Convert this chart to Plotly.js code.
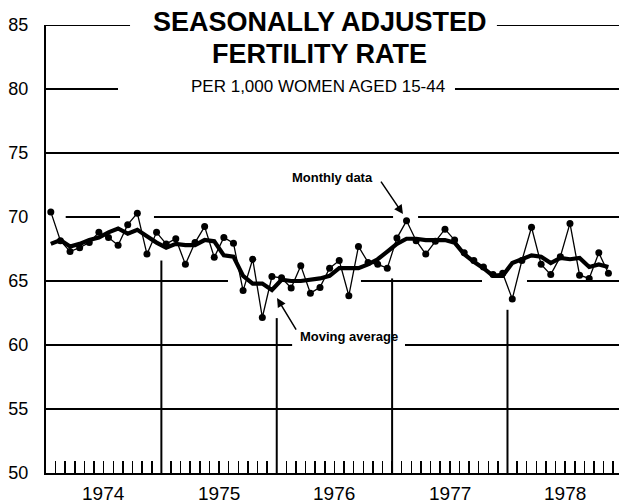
<!DOCTYPE html>
<html>
<head>
<meta charset="utf-8">
<script src="https://cdn.plot.ly/plotly-3.0.1.min.js"></script>
<style>html,body{margin:0;padding:0;background:#fff;}#chart{width:619px;height:504px;}</style>
</head>
<body>
<div id="chart"></div>
<script>
// Years shown on the axis
var years = ['1974', '1975', '1976', '1977', '1978'];

// Monthly seasonally adjusted fertility rate, Jan 1974 .. Nov 1978
var monthlyRate = [
  70.4, 68.15, 67.3, 67.6, 68.0, 68.8, 68.4, 67.8, 69.4, 70.3, 67.1, 68.8,
  67.9, 68.3, 66.3, 68.0, 69.25, 66.85, 68.4, 67.95, 64.25, 66.7, 62.15, 65.35,
  65.25, 64.45, 66.2, 64.05, 64.5, 66.0, 66.6, 63.85, 67.7, 66.45, 66.3, 66.0,
  68.35, 69.7, 68.15, 67.1, 68.1, 69.05, 68.2, 67.2, 66.6, 66.1, 65.5, 65.6,
  63.6, 66.6, 69.2, 66.3, 65.5, 66.9, 69.5, 65.45, 65.2, 67.2, 65.6
];

// Moving average
var movingAvg = [
  67.9, 68.2, 67.7, 67.9, 68.2, 68.4, 68.8, 69.1, 68.7, 69.0, 68.5, 68.0,
  67.6, 67.9, 67.8, 67.8, 68.2, 68.1, 67.0, 66.9, 65.4, 64.8, 64.8, 64.3,
  65.1, 65.0, 65.0, 65.1, 65.2, 65.4, 66.0, 66.0, 66.0, 66.3, 66.7, 67.3,
  67.9, 68.3, 68.3, 68.2, 68.2, 68.2, 68.0, 67.1, 66.5, 66.0, 65.4, 65.4,
  66.4, 66.7, 67.0, 66.9, 66.4, 66.8, 66.7, 66.8, 66.1, 66.3, 66.1
];

var yTicks = [50, 55, 60, 65, 70, 75, 80, 85];

// month i is drawn at the middle of its month slot
var xMonthly = monthlyRate.map(function (v, i) { return i + 0.5; });
var xAvg = movingAvg.map(function (v, i) { return i + 0.5; });

var XMAX = 59.6;
var FONT = 'Liberation Sans, Arial, Helvetica, sans-serif';

// horizontal rule segments (broken where text / data cross them)
var rules = [
  {y: 85, segs: [[0, 8.74], [46.9, XMAX]]},
  {y: 80, segs: [[0, 7.49], [42.54, XMAX]]},
  {y: 75, segs: [[0, XMAX]]},
  {y: 70, segs: [[2.05, 7.7], [11.23, 36.1], [38.7, XMAX]]},
  {y: 65, segs: [[0, 18.93], [32.76, 45.35], [50.03, XMAX]]},
  {y: 60, segs: [[0, 25.6], [37.34, XMAX]]},
  {y: 55, segs: [[0, XMAX]]}
];
var shapes = [];
rules.forEach(function (r) {
  r.segs.forEach(function (s) {
    shapes.push({type: 'line', xref: 'x', yref: 'y', x0: s[0], x1: s[1], y0: r.y, y1: r.y,
      line: {color: '#000', width: 2}, layer: 'below'});
  });
});
// year separators rising from the baseline
var sepTops = [66.6, 62.1, 65.2, 62.75];
sepTops.forEach(function (t, k) {
  shapes.push({type: 'line', xref: 'x', yref: 'y', x0: (k + 1) * 12, x1: (k + 1) * 12, y0: 50, y1: t,
    line: {color: '#000', width: 2}, layer: 'below'});
});

var annotations = [];
years.forEach(function (yr, k) {
  annotations.push({xref: 'x', yref: 'y', x: k * 12 + 6, y: 50, yanchor: 'top', yshift: -8,
    text: yr, showarrow: false, font: {family: FONT, size: 19, color: '#000'}});
});
annotations.push(
  {xref: 'paper', yref: 'paper', x: 0.478, y: 1 + (25 - 22) / 448, xanchor: 'center', yanchor: 'middle',
   text: '<b>SEASONALLY ADJUSTED</b>', showarrow: false, font: {family: FONT, size: 27, color: '#000'}},
  {xref: 'paper', yref: 'paper', x: 0.478, y: 1 - (54 - 25) / 448, xanchor: 'center', yanchor: 'middle',
   text: '<b>FERTILITY RATE</b>', showarrow: false, font: {family: FONT, size: 27, color: '#000'}},
  {xref: 'paper', yref: 'paper', x: 0.475, y: 1 - (86 - 25) / 448, xanchor: 'center', yanchor: 'middle',
   text: 'PER 1,000 WOMEN AGED 15-44', showarrow: false, font: {family: FONT, size: 17, color: '#000'}},
  {xref: 'x', yref: 'y', x: 29.85, y: 73.05, text: '<b>Monthly data</b>', showarrow: false,
   font: {family: FONT, size: 13, color: '#000'}},
  {xref: 'x', yref: 'y', x: 31.52, y: 60.7, text: '<b>Moving average</b>', showarrow: false,
   font: {family: FONT, size: 13, color: '#000'}},
  {xref: 'x', yref: 'y', x: 37.13, y: 70.23, ax: -23, ay: -34, text: '', showarrow: true,
   arrowhead: 2, arrowsize: 1.2, arrowwidth: 1.5, arrowcolor: '#000'},
  {xref: 'x', yref: 'y', x: 24.03, y: 63.67, ax: 20, ay: 33, text: '', showarrow: true,
   arrowhead: 2, arrowsize: 1.2, arrowwidth: 1.5, arrowcolor: '#000'}
);

var traces = [
  {x: xMonthly, y: monthlyRate, type: 'scatter', mode: 'lines+markers', name: 'Monthly data',
   line: {color: '#000', width: 1.3}, marker: {color: '#000', size: 7}},
  {x: xAvg, y: movingAvg, type: 'scatter', mode: 'lines', name: 'Moving average',
   line: {color: '#000', width: 4.2}}
];

var layout = {
  width: 619, height: 504,
  margin: {l: 46, r: 0, t: 25, b: 31, pad: 0},
  paper_bgcolor: '#fff', plot_bgcolor: '#fff',
  showlegend: false,
  font: {family: FONT, color: '#000'},
  xaxis: {range: [0, XMAX], showgrid: false, zeroline: false, showline: true, linecolor: '#000', linewidth: 2,
    tickmode: 'linear', tick0: 0, dtick: 1, ticks: 'inside', ticklen: 12, tickwidth: 1.5, tickcolor: '#000',
    showticklabels: false, fixedrange: true},
  yaxis: {range: [50, 85], showgrid: false, zeroline: false, showline: true, linecolor: '#000', linewidth: 2,
    tickmode: 'array', tickvals: yTicks, ticks: '', ticklabelstandoff: 12,
    tickfont: {family: FONT, size: 18, color: '#000'}, fixedrange: true},
  shapes: shapes,
  annotations: annotations
};

Plotly.newPlot('chart', traces, layout, {displayModeBar: false, staticPlot: true});
</script>
</body>
</html>
